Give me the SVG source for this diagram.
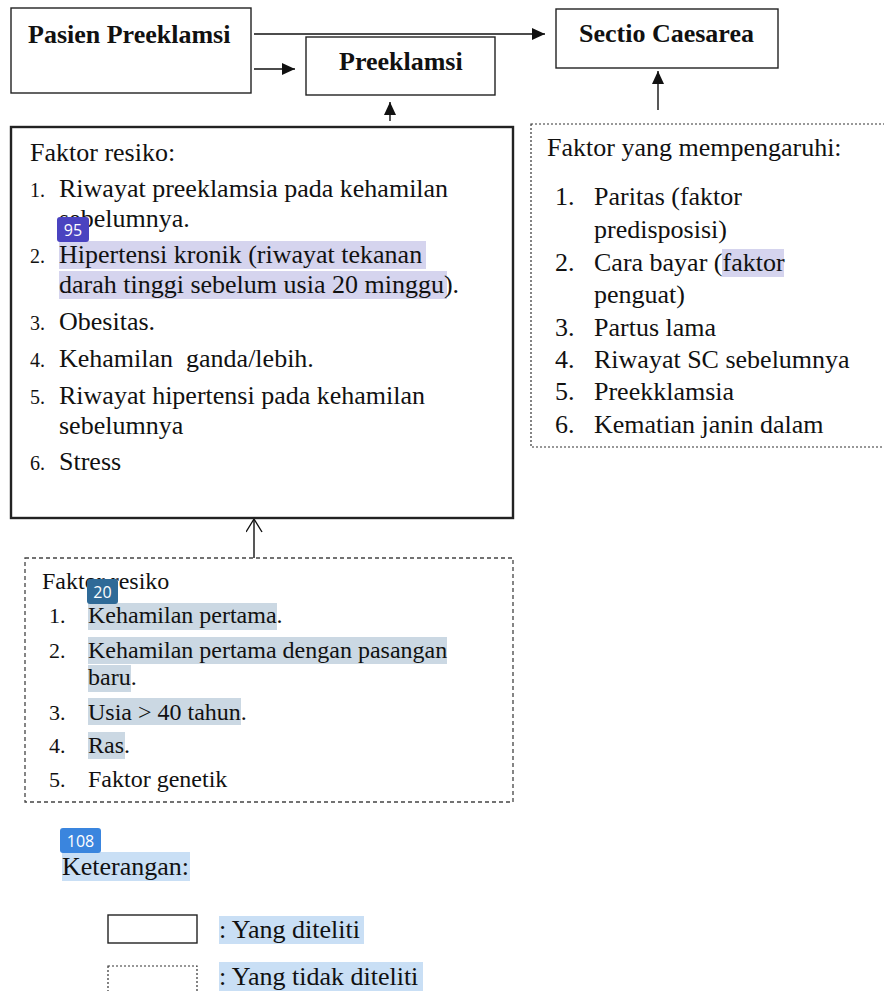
<svg xmlns="http://www.w3.org/2000/svg" width="884" height="991" viewBox="0 0 884 991">
<style>
text{font-family:"Liberation Serif","Times New Roman",serif;fill:#111}
.b{font-weight:bold;font-size:26px}
.t{font-size:26px}
.n{font-size:20px}
.s{font-size:24px}
.sn{font-size:22px}
.box{fill:#fff;stroke:#222;stroke-width:1.4}
.big{fill:#fff;stroke:#222;stroke-width:2.4}
.dot{fill:#fff;stroke:#333;stroke-width:1.2;stroke-dasharray:2 2}
.dash{fill:#fff;stroke:#444;stroke-width:1.3;stroke-dasharray:4 3}
.conn{stroke:#111;stroke-width:1.4;fill:none}
.hp{fill:#d5d4ee}
.hb{fill:#cbd8e3}
.hl{fill:#c9dff5}
.badge{font-family:"Open Sans","DejaVu Sans",sans-serif;font-size:16px;fill:#fff}
</style>
<defs>
<marker id="ah" markerUnits="userSpaceOnUse" markerWidth="14" markerHeight="14" refX="13" refY="6" orient="auto">
<path d="M0,0 L13,6 L0,12 z" fill="#111"/>
</marker>
<marker id="ao" markerUnits="userSpaceOnUse" markerWidth="16" markerHeight="18" refX="14" refY="8" orient="auto">
<path d="M1,0 L14,8 L1,16" fill="none" stroke="#111" stroke-width="1.4"/>
</marker>
</defs>

<g id="connectors">
<line class="conn" x1="254" y1="34" x2="545" y2="34" marker-end="url(#ah)"/>
<line class="conn" x1="254" y1="69" x2="295" y2="69" marker-end="url(#ah)"/>
<line class="conn" x1="390" y1="121" x2="390" y2="102" marker-end="url(#ah)"/>
<line class="conn" x1="658" y1="110" x2="658" y2="71" marker-end="url(#ah)"/>
<line class="conn" x1="254" y1="558" x2="254" y2="519" marker-end="url(#ao)"/>
</g>

<g id="pasien">
<rect class="box" x="11" y="8" width="240" height="85"/>
<text class="b" x="28" y="43">Pasien Preeklamsi</text>
</g>

<g id="preeklamsi">
<rect class="box" x="306" y="37" width="189" height="58"/>
<text class="b" x="339" y="70">Preeklamsi</text>
</g>

<g id="sectio">
<rect class="box" x="556" y="9" width="222" height="59"/>
<text class="b" x="579" y="42">Sectio Caesarea</text>
</g>

<g id="faktor-resiko-diteliti">
<rect class="big" x="11" y="127" width="502" height="391"/>
<rect class="hp" x="59" y="241" width="367" height="28"/>
<rect class="hp" x="59" y="271" width="388" height="28"/>
<text class="t" x="30" y="161">Faktor resiko:</text>
<text class="n" x="30" y="197">1.</text>
<text class="t" x="59" y="197">Riwayat preeklamsia pada kehamilan</text>
<text class="t" x="59" y="227">sebelumnya.</text>
<text class="n" x="30" y="263">2.</text>
<text class="t" x="59" y="263">Hipertensi kronik (riwayat tekanan</text>
<text class="t" x="59" y="293">darah tinggi sebelum usia 20 minggu).</text>
<text class="n" x="30" y="330">3.</text>
<text class="t" x="59" y="330">Obesitas.</text>
<text class="n" x="30" y="367">4.</text>
<text class="t" x="59" y="367">Kehamilan&#160; ganda/lebih.</text>
<text class="n" x="30" y="404">5.</text>
<text class="t" x="59" y="404">Riwayat hipertensi pada kehamilan</text>
<text class="t" x="59" y="434">sebelumnya</text>
<text class="n" x="30" y="470">6.</text>
<text class="t" x="59" y="470">Stress</text>
<rect x="57" y="217" width="32" height="25" rx="3" fill="#4a43c0"/>
<text class="badge" x="73" y="235.5" text-anchor="middle">95</text>
</g>

<g id="faktor-mempengaruhi">
<rect class="dot" x="531" y="124" width="360" height="323"/>
<rect class="hp" x="722" y="249" width="62" height="28"/>
<text class="t" x="547" y="156">Faktor yang mempengaruhi:</text>
<text class="t" x="555" y="205">1.</text>
<text class="t" x="594" y="205">Paritas (faktor</text>
<text class="t" x="594" y="238">predisposisi)</text>
<text class="t" x="555" y="271">2.</text>
<text class="t" x="594" y="271">Cara bayar (faktor</text>
<text class="t" x="594" y="303">penguat)</text>
<text class="t" x="555" y="336">3.</text>
<text class="t" x="594" y="336">Partus lama</text>
<text class="t" x="555" y="368">4.</text>
<text class="t" x="594" y="368">Riwayat SC sebelumnya</text>
<text class="t" x="555" y="400">5.</text>
<text class="t" x="594" y="400">Preekklamsia</text>
<text class="t" x="555" y="433">6.</text>
<text class="t" x="594" y="433">Kematian janin dalam</text>
</g>

<g id="faktor-resiko-tidak">
<rect class="dash" x="25" y="558" width="488" height="244"/>
<rect class="hb" x="88" y="603" width="189" height="27"/>
<rect class="hb" x="88" y="637" width="359" height="27"/>
<rect class="hb" x="88" y="665" width="43" height="27"/>
<rect class="hb" x="88" y="698" width="153" height="27"/>
<rect class="hb" x="88" y="732" width="37" height="27"/>
<text class="s" x="42" y="589">Faktor resiko</text>
<text class="sn" x="49" y="623">1.</text>
<text class="s" x="88" y="623">Kehamilan pertama.</text>
<text class="sn" x="49" y="658">2.</text>
<text class="s" x="88" y="658">Kehamilan pertama dengan pasangan</text>
<text class="s" x="88" y="685">baru.</text>
<text class="sn" x="49" y="720">3.</text>
<text class="s" x="88" y="720">Usia &gt; 40 tahun.</text>
<text class="sn" x="49" y="753">4.</text>
<text class="s" x="88" y="753">Ras.</text>
<text class="sn" x="49" y="787">5.</text>
<text class="s" x="88" y="787">Faktor genetik</text>
<rect x="87" y="579" width="31" height="25" rx="3" fill="#2f6a97"/>
<text class="badge" x="102.5" y="597.5" text-anchor="middle">20</text>
</g>

<g id="keterangan">
<rect class="hl" x="62" y="852" width="128" height="29"/>
<text class="t" x="62" y="875">Keterangan:</text>
<rect x="60" y="828" width="41" height="25" rx="3" fill="#3a85de"/>
<text class="badge" x="80.5" y="846.5" text-anchor="middle">108</text>
<rect class="box" x="108" y="915" width="89" height="28"/>
<rect class="hl" x="219" y="916" width="145" height="28"/>
<text class="t" x="219" y="938">: Yang diteliti</text>
<rect class="dot" x="108" y="966" width="89" height="40"/>
<rect class="hl" x="219" y="962" width="204" height="29"/>
<text class="t" x="219" y="985">: Yang tidak diteliti</text>
</g>
</svg>
